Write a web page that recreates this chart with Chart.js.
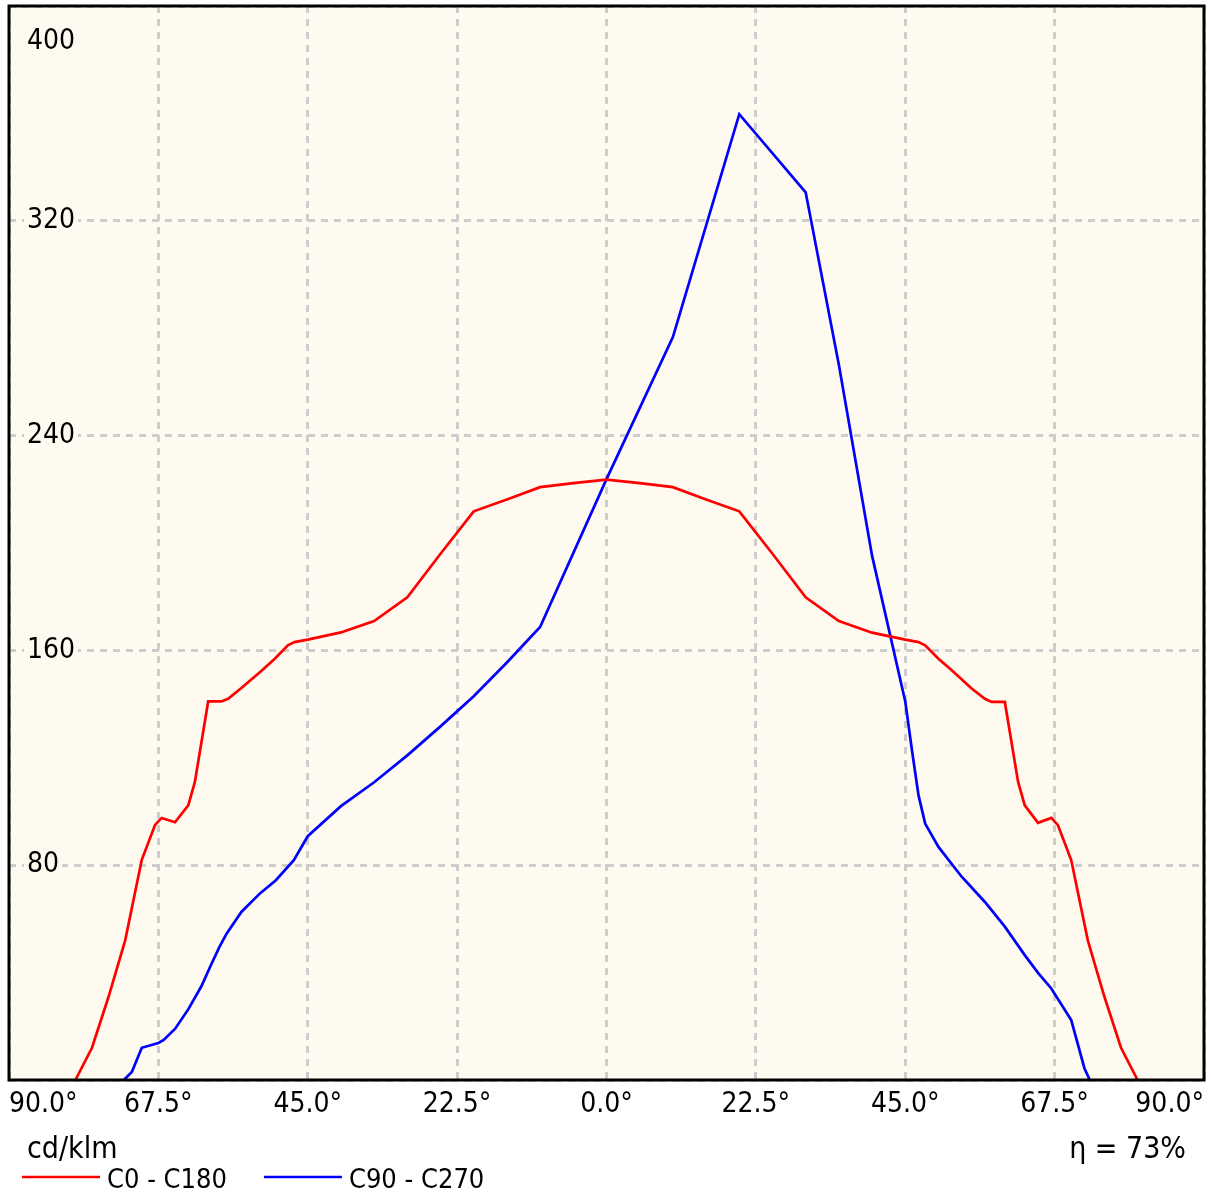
<!DOCTYPE html>
<html>
<head>
<meta charset="utf-8">
<script src="https://cdn.jsdelivr.net/npm/chart.js@4.4.0/dist/chart.umd.min.js"></script>
<style>
  html, body { margin: 0; padding: 0; background: #fff; }
  #wrap { width: 1211px; height: 1196px; }
</style>
</head>
<body>
<div id="wrap"><canvas id="photometry"></canvas></div>
<script>
// C0 - C180 plane (red)
const redAngles = [-80, -77.5, -75, -72.5, -70, -68, -67, -65, -63, -62, -60, -58, -57, -55, -52, -50, -48, -47, -45, -40, -35, -30, -25, -20, -15, -10, -5, 0,
  5, 10, 15, 20, 25, 30, 35, 40, 45, 47, 48, 50, 52, 55, 57, 58, 60, 62, 63, 65, 67, 68, 70, 72.5, 75, 77.5, 80];
const redValues = [0, 12, 31, 52, 82, 95, 97.6, 96, 102.3, 111, 141, 141, 142, 146, 152.3, 156.8, 161.9, 163.1, 164, 166.7, 170.9, 179.8, 196, 211.8, 216.2, 220.8, 222.3, 223.6,
  222.3, 220.8, 216.2, 211.8, 196, 179.8, 170.9, 166.6, 164, 163.1, 161.9, 156.9, 152.6, 145.8, 142, 140.8, 140.8, 111, 102.3, 95.8, 97.6, 94.9, 81.9, 52, 31, 12, 0];

// C90 - C270 plane (blue)
const blueAngles = [-72.7, -71.5, -70, -67.5, -66.7, -65, -63, -61, -59.7, -58.3, -57.2, -55, -52.2, -49.8, -47.1, -45, -40, -35, -30, -25, -20, -15, -10, 0,
  10, 20, 30, 35, 40, 45, 46, 47, 48, 50, 53.5, 57, 60, 63, 65, 67, 70, 72, 72.8];
const blueValues = [0, 3, 12, 13.8, 14.9, 19, 26.3, 35, 42.2, 49.6, 54.6, 62.6, 69.5, 74.4, 81.9, 90.8, 102, 110.9, 120.9, 131.7, 142.9, 155.5, 168.7, 223.8,
  276.7, 359.7, 330.6, 266.4, 195.3, 141, 123, 106, 95.5, 86.8, 75.7, 66.3, 57.1, 46.5, 39.9, 34.1, 22.3, 4.3, 0];

const xTickLabels = ["90.0°", "67.5°", "45.0°", "22.5°", "0.0°", "22.5°", "45.0°", "67.5°", "90.0°"];
const yTickLabels = ["", "80", "160", "240", "320", "400"];
const seriesNames = ["C0 - C180", "C90 - C270"];
const unitLabel = "cd/klm";
const efficiencyLabel = "η = 73%";

const FONT = '"DejaVu Sans Condensed", "Noto Sans", sans-serif';
const PLOT_BG = "#fffaef";
const GRID = "#cdcdcd";

Chart.defaults.font.family = FONT;
Chart.defaults.color = "#000";

const frame = {
  id: "frame",
  beforeDraw(chart) {
    const { ctx, chartArea: a } = chart;
    ctx.save();
    ctx.fillStyle = PLOT_BG;
    ctx.fillRect(a.left, a.top, a.right - a.left, a.bottom - a.top);
    ctx.restore();
  },
  afterDraw(chart) {
    const { ctx, chartArea: a, scales } = chart;
    ctx.save();
    ctx.strokeStyle = "#000";
    ctx.lineWidth = 3;
    ctx.strokeRect(a.left, a.top, a.right - a.left, a.bottom - a.top);

    // top y label sits inside the frame, below its line
    ctx.fillStyle = "#000";
    ctx.font = "28px " + FONT;
    ctx.textAlign = "left";
    ctx.textBaseline = "middle";
    ctx.fillText(yTickLabels[yTickLabels.length - 1], a.left + 18, scales.y.getPixelForValue(400) + 36);

    // unit and efficiency
    ctx.font = "30px " + FONT;
    ctx.textBaseline = "alphabetic";
    ctx.fillText(unitLabel, 27, chart.height - 38);
    ctx.textAlign = "right";
    ctx.fillText(efficiencyLabel, 1186, chart.height - 38);

    // legend
    ctx.font = "27px " + FONT;
    ctx.textAlign = "left";
    ctx.textBaseline = "middle";
    let x = 22;
    const ly = chart.height - 19;
    chart.data.datasets.forEach(ds => {
      ctx.strokeStyle = ds.borderColor;
      ctx.lineWidth = 2.5;
      ctx.beginPath();
      ctx.moveTo(x, ly);
      ctx.lineTo(x + 78, ly);
      ctx.stroke();
      ctx.fillText(ds.label, x + 85, ly + 4);
      x += 85 + ctx.measureText(ds.label).width + 37;
    });
    ctx.restore();
  }
};

const innerTick = c => c.tick.value > 0 && c.tick.value < 400;

new Chart(document.getElementById("photometry"), {
  type: "line",
  data: {
    datasets: [
      {
        label: seriesNames[0],
        data: redAngles.map((a, i) => ({ x: a, y: redValues[i] })),
        borderColor: "#ff0000",
        backgroundColor: "#ff0000",
        borderWidth: 2.7,
        pointRadius: 0,
        tension: 0,
        fill: false
      },
      {
        label: seriesNames[1],
        data: blueAngles.map((a, i) => ({ x: a, y: blueValues[i] })),
        borderColor: "#0000ff",
        backgroundColor: "#0000ff",
        borderWidth: 2.7,
        pointRadius: 0,
        tension: 0,
        fill: false
      }
    ]
  },
  options: {
    responsive: true,
    maintainAspectRatio: false,
    animation: false,
    devicePixelRatio: 1,
    layout: { padding: { left: 9, right: 7, top: 6, bottom: 0 } },
    plugins: {
      legend: { display: false },
      tooltip: { enabled: false }
    },
    scales: {
      x: {
        type: "linear",
        min: -90,
        max: 90,
        afterFit: s => { s.height = 116; s.paddingLeft = 0; s.paddingRight = 0; },
        border: { display: false, dash: [7, 6] },
        grid: { color: GRID, lineWidth: 3, drawTicks: false },
        ticks: {
          stepSize: 22.5,
          autoSkip: false,
          maxRotation: 0,
          align: "inner",
          padding: 8,
          font: { size: 28 },
          callback: (v, i) => xTickLabels[i]
        }
      },
      y: {
        min: 0,
        max: 400,
        afterFit: s => { s.width = 0; s.paddingTop = 0; s.paddingBottom = 0; },
        border: { display: false, dash: [7, 6] },
        grid: { color: GRID, lineWidth: 3, drawTicks: false },
        ticks: {
          stepSize: 80,
          mirror: true,
          padding: 18,
          font: { size: 28 },
          showLabelBackdrop: innerTick,
          backdropColor: PLOT_BG,
          backdropPadding: { x: 3, y: 2 },
          callback: (v, i) => (i === yTickLabels.length - 1 ? "" : yTickLabels[i])
        }
      }
    }
  },
  plugins: [frame]
});
</script>
</body>
</html>
